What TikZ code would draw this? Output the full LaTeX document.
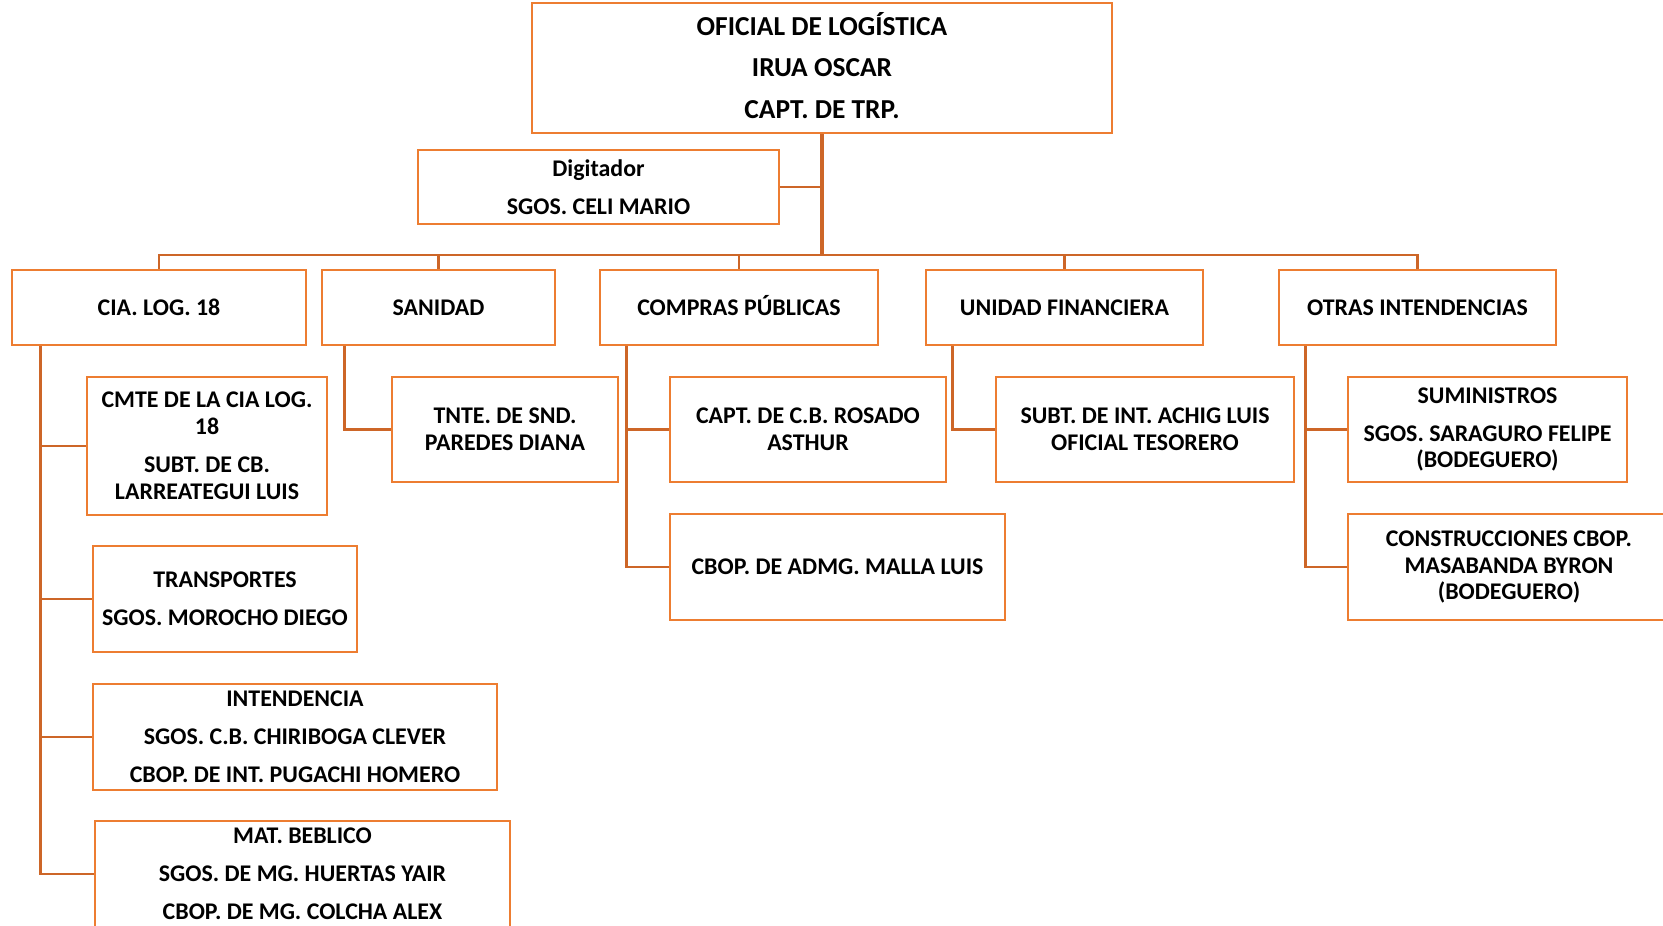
\documentclass[tikz,border=0pt]{standalone}
\usepackage{fontspec}
\setmainfont{Carlito}
\usetikzlibrary{positioning}
\definecolor{naranja}{RGB}{237,125,49}
\definecolor{naranjaosc}{RGB}{205,102,40}

\begin{document}
\begin{tikzpicture}[
  caja/.style={draw=naranja,line width=1.6pt,align=center,inner sep=0pt,
    font=\bfseries\fontsize{13.6}{15.2}\selectfont},
  jefe/.style={caja,font=\bfseries\fontsize{15.6}{23.6}\selectfont},
  linea/.style={draw=naranjaosc,line width=1.5pt}]
\useasboundingbox (0,0) rectangle (33.26,-18.5);

% jefatura
\node[jefe,minimum width=11.6cm,minimum height=2.6cm] (oficial) at (16.44,-1.36) {OFICIAL DE LOG\smash{Í}STICA\\IRUA OSCAR\\CAPT. DE TRP.};
\node[caja,minimum width=7.22cm,minimum height=1.48cm] (digitador) at (11.97,-3.74) {Digitador\\[6.5pt]SGOS. CELI MARIO};
\coordinate (bus) at (16.44,-5.1);

% secciones
\node[caja,minimum width=5.88cm,minimum height=1.5cm] (cia) at (3.18,-6.15) {CIA. LOG. 18};
\node[caja,minimum width=4.66cm,minimum height=1.5cm] (sanidad) at (8.77,-6.15) {SANIDAD};
\node[caja,minimum width=5.56cm,minimum height=1.5cm] (compras) at (14.78,-6.15) {COMPRAS P\smash{Ú}BLICAS};
\node[caja,minimum width=5.54cm,minimum height=1.5cm] (financiera) at (21.29,-6.15) {UNIDAD FINANCIERA};
\node[caja,minimum width=5.54cm,minimum height=1.5cm] (otras) at (28.35,-6.15) {OTRAS INTENDENCIAS};

% personal
\node[caja,minimum width=4.8cm,minimum height=2.76cm] (cmte) at (4.14,-8.92) {CMTE DE LA CIA LOG.\\18\\[6.5pt]SUBT. DE CB.\\LARREATEGUI LUIS};
\node[caja,minimum width=5.28cm,minimum height=2.12cm] (transportes) at (4.50,-11.98) {TRANSPORTES\\[6.5pt]SGOS. MOROCHO DIEGO};
\node[caja,minimum width=8.08cm,minimum height=2.12cm] (intendencia) at (5.90,-14.74) {INTENDENCIA\\[6.5pt]SGOS. C.B. CHIRIBOGA CLEVER\\[6.5pt]CBOP. DE INT. PUGACHI HOMERO};
\node[caja,minimum width=8.3cm,minimum height=2.12cm] (material) at (6.05,-17.48) {MAT. BEBLICO\\[6.5pt]SGOS. DE MG. HUERTAS YAIR\\[6.5pt]CBOP. DE MG. COLCHA ALEX};
\node[caja,minimum width=4.52cm,minimum height=2.1cm] (tnte) at (10.10,-8.59) {TNTE. DE SND.\\PAREDES DIANA};
\node[caja,minimum width=5.52cm,minimum height=2.1cm] (rosado) at (16.16,-8.59) {CAPT. DE C.B. ROSADO\\ASTHUR};
\node[caja,minimum width=6.7cm,minimum height=2.12cm] (malla) at (16.75,-11.34) {CBOP. DE ADMG. MALLA LUIS};
\node[caja,minimum width=5.96cm,minimum height=2.1cm] (achig) at (22.9,-8.59) {SUBT. DE INT. ACHIG LUIS\\OFICIAL TESORERO};
\node[caja,minimum width=5.58cm,minimum height=2.1cm] (suministros) at (29.75,-8.59) {SUMINISTROS\\[6.5pt]SGOS. SARAGURO FELIPE\\(BODEGUERO)};
\node[caja,minimum width=6.44cm,minimum height=2.12cm] (construcciones) at (30.18,-11.34) {CONSTRUCCIONES CBOP.\\MASABANDA BYRON\\(BODEGUERO)};

% lineas
\draw[linea,line width=2pt] (oficial.south) -- (bus);
\draw[linea] (digitador.east) -- (digitador.east -| oficial.south);
\draw[linea] (cia.north) |- (bus) -| (otras.north);
\foreach \n in {sanidad,compras,financiera}
  \draw[linea] (\n.north) -- (\n.north |- bus);
\foreach \n in {cmte,transportes,intendencia,material}
  \draw[linea] ([xshift=6mm]cia.south west) |- (\n.west);
\draw[linea] ([xshift=4.8mm]sanidad.south west) |- (tnte.west);
\foreach \n in {rosado,malla}
  \draw[linea] ([xshift=5.6mm]compras.south west) |- (\n.west);
\draw[linea] ([xshift=5.6mm]financiera.south west) |- (achig.west);
\foreach \n in {suministros,construcciones}
  \draw[linea] ([xshift=5.6mm]otras.south west) |- (\n.west);
\end{tikzpicture}
\end{document}
